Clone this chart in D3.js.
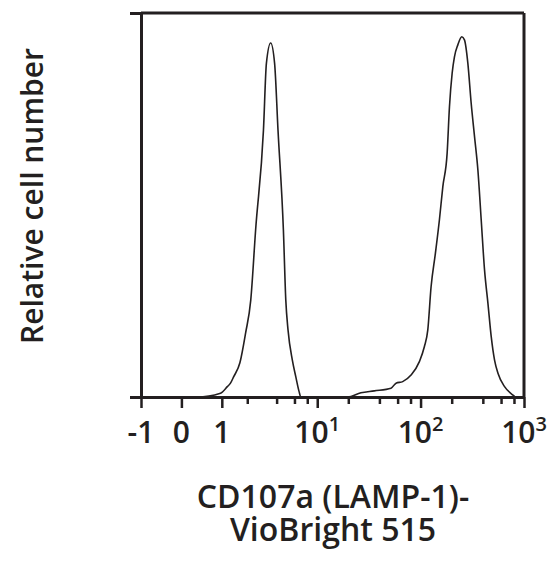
<!DOCTYPE html>
<html>
<head>
<meta charset="utf-8">
<script src="https://cdn.jsdelivr.net/npm/d3@7"></script>
<style>
  html, body { margin: 0; padding: 0; background: #fff; }
  text { font-family: "Open Sans", "DejaVu Sans", sans-serif; fill: #231f20; }
</style>
</head>
<body>
<svg id="chart" width="552" height="566"></svg>
<script>
// ---- data (fluorescence intensity, relative count) ----
const fluorescence = [0.1, 0.35, 0.96, 1.18, 1.29, 1.41, 1.66, 1.92, 2.18, 2.45, 2.95, 3.16, 3.49, 3.82, 4.13, 4.67, 4.93, 5.19, 5.72, 6.18, 6.66, 6.92, 12, 19.7, 26.5, 35.7, 51.8, 57.9, 67.2, 80.9, 97.4, 108.8, 117.4, 126.4, 139.1, 152.1, 164.2, 180.7, 190.3, 202, 212.6, 229.3, 250.6, 265.7, 286.6, 308.6, 332.5, 358.3, 385.8, 415.4, 448.1, 482.1, 519.2, 560.1, 648.9, 782.5, 824];
const counts = [0, 0, 1.0, 2.7, 3.6, 5.3, 8.9, 16.7, 25.3, 43.5, 69.5, 86.9, 92.2, 86.9, 69.5, 43.5, 25.3, 17.4, 9.6, 5.3, 1.4, 0, 0, 0, 1.1, 1.6, 2.3, 3.6, 4.0, 5.7, 9.2, 13.1, 17.4, 28.7, 37.4, 46.1, 54.8, 63.5, 75.6, 84.3, 88.6, 91.7, 93.8, 93.0, 86.9, 76.5, 67.8, 59.1, 46.1, 33.1, 24.4, 15.7, 9.6, 6.2, 2.7, 0.5, 0];

const majorTicks = [-1, 0, 1, 10, 100, 1000];
const majorBase = ["-1", "0", "1", "10", "10", "10"];
const majorExp = ["", "", "", "1", "2", "3"];
const minorTicks = [2, 4, 6, 8, 20, 40, 60, 80, 200, 400, 600, 800];
const yTitle = "Relative cell number";
const xTitle = ["CD107a (LAMP-1)-", "VioBright 515"];

// ---- scales ----
const cof = 0.975;
const T = v => Math.asinh(v / cof);
const xLin = d3.scaleLinear().domain([T(-1), T(1000)]).range([141, 524]);
const x = v => xLin(T(v));
const y = d3.scaleLinear().domain([0, 100]).range([397, 13]);

const svg = d3.select("#chart");
const ink = "#231f20";

// histogram line
const pts = fluorescence.map((f, i) => [x(f), y(counts[i])]);
svg.append("path")
  .attr("d", d3.line().curve(d3.curveMonotoneX)(pts))
  .attr("fill", "none").attr("stroke", ink).attr("stroke-width", 1.6);

// frame: top and right
svg.append("line").attr("x1", x(-1)).attr("x2", x(1000)).attr("y1", y(100)).attr("y2", y(100))
  .attr("stroke", ink).attr("stroke-width", 3);
svg.append("line").attr("x1", x(1000)).attr("x2", x(1000)).attr("y1", y(100)).attr("y2", y(0))
  .attr("stroke", ink).attr("stroke-width", 3);

// y axis
const yAxis = svg.append("g").attr("transform", `translate(${x(-1)},0)`)
  .call(d3.axisLeft(y).tickValues([0, 100]).tickSize(11).tickSizeOuter(0).tickFormat(""));
yAxis.select(".domain").attr("stroke", ink).attr("stroke-width", 3);
yAxis.selectAll(".tick line").attr("stroke", ink).attr("stroke-width", 3);

// x axis minor
const xMinor = svg.append("g").attr("transform", `translate(0,${y(0)})`)
  .call(d3.axisBottom(xLin).tickValues(minorTicks.map(T)).tickSize(7).tickSizeOuter(0).tickFormat(""));
xMinor.select(".domain").remove();
xMinor.selectAll(".tick line").attr("stroke", ink).attr("stroke-width", 2.5);

// x axis major
const xMajor = svg.append("g").attr("transform", `translate(0,${y(0)})`)
  .call(d3.axisBottom(xLin).tickValues(majorTicks.map(T)).tickSize(11).tickSizeOuter(0).tickFormat(""));
xMajor.select(".domain").attr("stroke", ink).attr("stroke-width", 3);
xMajor.selectAll(".tick line").attr("stroke", ink).attr("stroke-width", 2.5);

// tick labels
const lab = svg.append("g");
majorTicks.forEach((v, i) => {
  const t = lab.append("text").attr("x", x(v)).attr("y", 443)
    .attr("text-anchor", "middle").attr("font-size", 30).attr("font-weight", 600);
  t.append("tspan").text(majorBase[i]);
  if (majorExp[i]) {
    t.append("tspan").attr("dy", -12).attr("font-size", 20).text(majorExp[i]);
  }
});

// y title
svg.append("text").attr("transform", "translate(43,196) rotate(-90)")
  .attr("text-anchor", "middle").attr("font-size", 30).attr("font-weight", 600)
  .text(yTitle);

// x title (two lines in one text element)
const xt = svg.append("text").attr("text-anchor", "middle")
  .attr("font-size", 32).attr("font-weight", 600);
xTitle.forEach((s, i) => {
  xt.append("tspan").attr("x", 333).attr("y", 508 + i * 33).text(s);
});
</script>
</body>
</html>
